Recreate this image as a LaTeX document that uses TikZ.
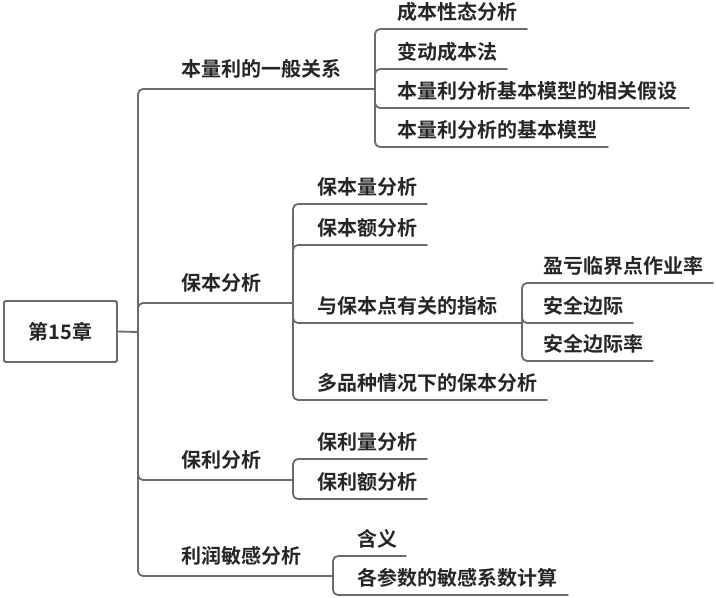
\documentclass[tikz,border=0pt]{standalone}
\usepackage{fontspec}
\setmainfont{Noto Sans CJK SC}[BoldFont={Noto Sans CJK SC Bold}]
\begin{document}
\begin{tikzpicture}[x=1pt,y=-1pt,
  every node/.style={inner sep=0pt, outer sep=0pt},
  lbl/.style={anchor=base west, font=\fontsize{20}{22}\selectfont\bfseries, text=black!85},
  link/.style={draw=black!58, line width=1.8pt, rounded corners=5pt, line cap=round},
  rootbox/.style={draw=black!58, line width=1.8pt, rounded corners=1.5pt, minimum width=113pt, minimum height=61pt, font=\fontsize{20}{22}\selectfont\bfseries, text=black!85}]
\useasboundingbox (0,0) rectangle (716,598);
% root
\node[rootbox] (root) at (60.5,331.5) {第15章};
\coordinate (jr) at (138,332);
% level 1 ends (sub-trunk x)
\coordinate (a) at (375,89);
\coordinate (b) at (293,303);
\coordinate (c) at (293,480);
\coordinate (d) at (333,576);
\node[lbl] (ta) at (181,76) {本量利的一般关系};
\node[lbl] (tb) at (181,290) {保本分析};
\node[lbl] (tc) at (181,467) {保利分析};
\node[lbl] (td) at (181,563) {利润敏感分析};
% level 2 ends
\coordinate (a1) at (527,29);
\coordinate (a2) at (507,69);
\coordinate (a3) at (689,108);
\coordinate (a4) at (608,147);
\node[lbl] (ta1) at (397,19.5) {成本性态分析};
\node[lbl] (ta2) at (397,59.5) {变动成本法};
\node[lbl] (ta3) at (397,98.5) {本量利分析基本模型的相关假设};
\node[lbl] (ta4) at (397,137.5) {本量利分析的基本模型};
\coordinate (b1) at (427,204);
\coordinate (b2) at (427,245);
\coordinate (b3) at (522,323);
\coordinate (b4) at (547,400);
\node[lbl] (tb1) at (317,194.5) {保本量分析};
\node[lbl] (tb2) at (317,235.5) {保本额分析};
\node[lbl] (tb3) at (317,313.5) {与保本点有关的指标};
\node[lbl] (tb4) at (317,390.5) {多品种情况下的保本分析};
\coordinate (b31) at (713,283);
\coordinate (b32) at (633,323);
\coordinate (b33) at (653,361);
\node[lbl] (tb31) at (543,273.5) {盈亏临界点作业率};
\node[lbl] (tb32) at (543,313.5) {安全边际};
\node[lbl] (tb33) at (543,351.5) {安全边际率};
\coordinate (c1) at (427,459);
\coordinate (c2) at (427,499);
\node[lbl] (tc1) at (317,449.5) {保利量分析};
\node[lbl] (tc2) at (317,489.5) {保利额分析};
\coordinate (d1) at (406,556);
\coordinate (d2) at (568,595);
\node[lbl] (td1) at (357,546.5) {含义};
\node[lbl] (td2) at (357,585.5) {各参数的敏感系数计算};
% connectors
\draw[link] (root.east) -- (jr);
\foreach \t in {a,b,c,d} \draw[link] (jr) |- (\t);
\foreach \t in {a1,a2,a3,a4} \draw[link] (a) |- (\t);
\foreach \t in {b1,b2,b3,b4} \draw[link] (b) |- (\t);
\foreach \t in {b31,b32,b33} \draw[link] (b3) |- (\t);
\foreach \t in {c1,c2} \draw[link] (c) |- (\t);
\foreach \t in {d1,d2} \draw[link] (d) |- (\t);
\end{tikzpicture}
\end{document}
